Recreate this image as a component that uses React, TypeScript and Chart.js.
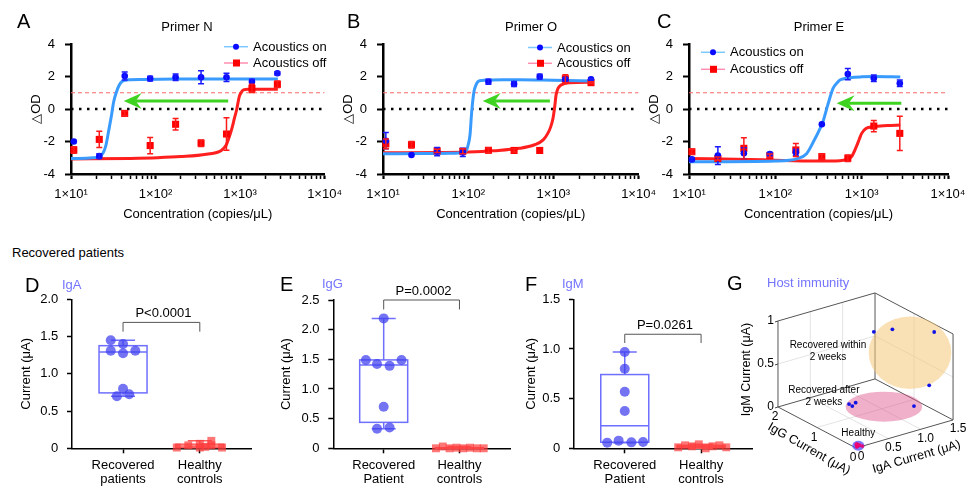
import React, { useEffect, useRef } from "react";
import { Chart, registerables } from "chart.js";

Chart.register(...registerables);
const FONT = '"Liberation Sans", Arial, Helvetica, sans-serif';
Chart.defaults.font.family = FONT;
Chart.defaults.color = "#000";

// ---------------- Data: panels A–C (ΔOD vs concentration) ----------------
const CONC = [10.8, 21.6, 43.2, 86.4, 172.8, 345.6, 691.2, 1382.4, 2764.8];
const X_DECADES = [10, 100, 1000, 10000];
const X_TICK_LABELS = ["1×10¹", "1×10²", "1×10³", "1×10⁴"];
const Y_TICKS_OD = [-4, -2, 0, 2, 4];
const CUTOFF = 1;
const BASELINE = 0;
const PRIMERS = ["Primer N", "Primer O", "Primer E"];
const SERIES = ["Acoustics on", "Acoustics off"];

const A_ON = [-2.0, -2.9, 2.03, 1.87, 1.95, 1.95, 1.95, 1.68, 2.2];
const A_ON_ERR = [0, 0.15, 0.25, 0.15, 0.2, 0.4, 0.25, 0.15, 0.1];
const A_OFF = [-2.52, -1.87, -0.27, -2.25, -0.94, -2.1, -1.54, 1.27, 1.52];
const A_OFF_ERR = [0.2, 0.5, 0.15, 0.5, 0.35, 0.2, 1.0, 0.25, 0.2];
const A_ON_FIT_X = [10, 18, 21.6, 24, 26, 28, 30, 32, 34.5, 37, 40, 44, 50, 70, 200, 2800];
const A_ON_FIT_Y = [-3.05, -3.0, -2.92, -2.7, -2.2, -1.3, -0.45, 0.45, 1.05, 1.45, 1.68, 1.77, 1.8, 1.82, 1.84, 1.85];
const A_OFF_FIT_X = [10, 50, 105, 200, 400, 600, 680, 724, 770, 810, 860, 910, 980, 1040, 1100, 1250, 2800];
const A_OFF_FIT_Y = [-3.08, -3.04, -3.0, -2.93, -2.78, -2.55, -2.25, -1.9, -1.5, -1.1, -0.55, -0.06, 0.76, 1.05, 1.17, 1.21, 1.22];
const A_ARROW = { from: 724, to: 42, y: 0.5 };

const B_ON = [-1.95, -2.83, -2.62, -2.67, 1.68, 1.54, 1.99, 1.83, 1.83];
const B_ON_ERR = [0.5, 0, 0.25, 0.25, 0.15, 0.15, 0.15, 0.1, 0.05];
const B_OFF = [-2.15, -2.2, -2.58, -2.6, -2.54, -2.55, -2.55, 1.86, 1.62];
const B_OFF_ERR = [0.3, 0.2, 0.1, 0.15, 0.15, 0.1, 0, 0.25, 0.05];
const B_ON_FIT_X = [10, 30, 60, 90, 96, 100, 105, 110, 117, 124, 130, 145, 170, 250, 400, 1000, 2800];
const B_ON_FIT_Y = [-2.75, -2.74, -2.73, -2.68, -2.52, -2.2, -1.6, -0.16, 1.07, 1.5, 1.68, 1.76, 1.78, 1.8, 1.8, 1.77, 1.73];
const B_OFF_FIT_X = [10, 50, 100, 200, 400, 600, 760, 860, 930, 990, 1040, 1075, 1130, 1230, 1550, 2800];
const B_OFF_FIT_Y = [-2.7, -2.68, -2.65, -2.57, -2.42, -2.2, -1.9, -1.5, -1.1, -0.57, 0.2, 0.86, 1.25, 1.48, 1.62, 1.65];
const B_ARROW = { from: 910, to: 148, y: 0.5 };

const C_ON = [-3.1, -2.87, -2.73, -2.77, -2.67, -0.94, 2.15, 1.89, 1.58];
const C_ON_ERR = [0.1, 0.55, 0.35, 0.1, 0.2, 0, 0.35, 0.2, 0.2];
const C_OFF = [-2.63, -3.05, -2.42, -2.87, -2.52, -2.93, -3.03, -1.05, -1.5];
const C_OFF_ERR = [0.15, 0.1, 0.65, 0.1, 0.4, 0.15, 0.2, 0.35, 1.05];
const C_ON_FIT_X = [10, 100, 180, 230, 277, 320, 356, 405, 466, 520, 560, 640, 727, 1000, 1400, 2800];
const C_ON_FIT_Y = [-3.25, -3.2, -3.05, -2.75, -2.0, -1.35, -0.78, 0.25, 1.27, 1.62, 1.78, 1.88, 1.93, 1.98, 2.0, 1.97];
const C_OFF_FIT_X = [10, 50, 100, 300, 560, 660, 760, 870, 940, 1000, 1130, 1350, 2000, 2800];
const C_OFF_FIT_Y = [-3.05, -3.1, -3.15, -3.2, -3.18, -3.12, -2.95, -2.3, -1.85, -1.5, -1.19, -1.09, -1.02, -0.98];
const C_ARROW = { from: 2880, to: 513, y: 0.35 };

// ---------------- Data: panels D–F (box plots) ----------------
const GROUPS_DE = ["Recovered", "patients"];
const GROUPS_P = ["Recovered", "Patient"];
const GROUP_HC = ["Healthy", "controls"];

const D_REC = [1.45, 1.4, 1.31, 1.275, 1.31, 0.8, 0.7, 0.725];
const D_REC_JIT = [-0.16, 0, -0.16, 0, 0.16, 0, -0.08, 0.08];
const D_HC = [0.01, 0.04, 0.06, 0.01, 0.1, 0.04, 0.01, 0.02];
const D_HC_JIT = [-0.3, -0.15, 0, 0, 0.15, 0.15, 0.29, 0.07];

const E_REC = [2.19, 1.49, 1.49, 1.42, 1.39, 0.7, 0.33, 0.35];
const E_REC_JIT = [0, -0.235, 0.235, -0.088, 0.078, 0, -0.088, 0.078];
const E_HC = [0.0, 0.03, 0.0, 0.01, 0.0, 0.01, 0.0, 0.0];
const E_HC_JIT = [-0.31, -0.22, -0.13, -0.04, 0.05, 0.14, 0.23, 0.32];

const F_REC = [0.97, 0.8, 0.57, 0.376, 0.057, 0.077, 0.06, 0.064];
const F_REC_JIT = [0, 0, 0, 0, -0.23, -0.08, 0.087, 0.24];
const F_HC = [0.01, 0.03, 0.02, 0.04, 0.0, 0.02, 0.03, 0.01];
const F_HC_JIT = [-0.3, -0.21, -0.12, -0.03, 0.06, 0.15, 0.24, 0.33];

// ---------------- Data: panel G (3D host immunity) ----------------
const G_IGA = [0.8, 1.31, 1.48, 1.3, 0.67, 0.66, 0.73, 1.27];
const G_IGG = [0.87, 1.24, 0.45, 0.28, 1.29, 1.19, 1.22, 0.62];
const G_IGM = [0.97, 0.8, 0.92, 0.38, 0.057, 0.06, 0.077, 0.064];
const G_IGA_TICKS = [0, 0.5, 1.0, 1.5];
const G_IGA_LABELS = ["0", "0.5", "1.0", "1.5"];
const G_IGG_TICKS = [0, 1, 2];
const G_IGM_TICKS = [0, 0.5, 1];
const G_IGM_LABELS = ["0", "0.5", "1"];

// ---------------- Styles ----------------
const GREEN = "#3fd321";
const BLUE_PT = "#0a0aff";
const RED_PT = "#ff0000";
const LABEL_BLUE = "#7474ff";

type P = { x: number; y: number };
const zip = (xs: number[], ys: number[]): P[] => xs.map((x, i) => ({ x, y: ys[i] }));

// ---------- plugins for A–C ----------
const errorBarsPlugin = {
  id: "errorBars",
  afterDatasetsDraw(chart: any) {
    const { ctx } = chart;
    const xs = chart.scales.x, ys = chart.scales.y;
    chart.data.datasets.forEach((ds: any) => {
      if (!ds.errors) return;
      ctx.save();
      ctx.strokeStyle = ds.errColor;
      ctx.lineWidth = 1.5;
      ds.data.forEach((p: P, i: number) => {
        const e = ds.errors[i];
        if (!e) return;
        const x = xs.getPixelForValue(p.x);
        const y1 = ys.getPixelForValue(p.y + e), y2 = ys.getPixelForValue(p.y - e);
        ctx.beginPath();
        ctx.moveTo(x, y1); ctx.lineTo(x, y2);
        ctx.moveTo(x - 3, y1); ctx.lineTo(x + 3, y1);
        ctx.moveTo(x - 3, y2); ctx.lineTo(x + 3, y2);
        ctx.stroke();
      });
      ctx.restore();
    });
  },
};

function arrowPlugin(arrow: { from: number; to: number; y: number }) {
  return {
    id: "arrow",
    afterDatasetsDraw(chart: any) {
      const { ctx } = chart;
      const x1 = chart.scales.x.getPixelForValue(arrow.from);
      const x0 = chart.scales.x.getPixelForValue(arrow.to);
      const y = chart.scales.y.getPixelForValue(arrow.y);
      ctx.save();
      ctx.strokeStyle = GREEN;
      ctx.fillStyle = GREEN;
      ctx.lineWidth = 3;
      ctx.beginPath();
      ctx.moveTo(x1, y);
      ctx.lineTo(x0 + 12, y);
      ctx.stroke();
      ctx.beginPath();
      ctx.moveTo(x0, y);
      ctx.lineTo(x0 + 18, y - 8);
      ctx.lineTo(x0 + 12, y);
      ctx.lineTo(x0 + 18, y + 8);
      ctx.closePath();
      ctx.fill();
      ctx.restore();
    },
  };
}

function legendPlugin(dx: number, ys: number[]) {
  return {
    id: "customLegend",
    afterDraw(chart: any) {
      const { ctx } = chart;
      const lx = chart.chartArea.left + dx;
      ctx.save();
      ctx.font = `13px ${FONT}`;
      ctx.textBaseline = "middle";
      ctx.textAlign = "left";
      SERIES.forEach((name, i) => {
        const y = ys[i];
        ctx.strokeStyle = i === 0 ? "#7cc8ff" : "#ff8fb0";
        ctx.lineWidth = 1.5;
        ctx.beginPath();
        ctx.moveTo(lx, y);
        ctx.lineTo(lx + 24, y);
        ctx.stroke();
        if (i === 0) {
          ctx.fillStyle = BLUE_PT;
          ctx.beginPath();
          ctx.arc(lx + 12, y, 3, 0, Math.PI * 2);
          ctx.fill();
        } else {
          ctx.fillStyle = RED_PT;
          ctx.fillRect(lx + 9, y - 3.5, 7, 7);
        }
        ctx.fillStyle = "#000";
        ctx.fillText(name, lx + 29, y + 0.5);
      });
      ctx.restore();
    },
  };
}

type OdPanel = {
  on: number[]; onErr: number[]; off: number[]; offErr: number[];
  onFitX: number[]; onFitY: number[]; offFitX: number[]; offFitY: number[];
  arrow: { from: number; to: number; y: number };
};

function odConfig(p: OdPanel, padRight: number, legendDx: number, legendY: number[]): any {
  const pts = (ys: number[]) => CONC.map((x, i) => ({ x, y: ys[i] }));
  return {
    type: "scatter",
    data: {
      datasets: [
        { data: pts(p.on), errors: p.onErr, errColor: "#1a1aff", pointStyle: "circle", pointRadius: 3.3, backgroundColor: BLUE_PT, borderWidth: 0, clip: false },
        { data: pts(p.off), errors: p.offErr, errColor: "#ff1a1a", pointStyle: "rect", pointRadius: 5, backgroundColor: RED_PT, borderWidth: 0, clip: false },
        { data: zip(p.onFitX, p.onFitY), showLine: true, borderColor: "#3a9bff", borderWidth: 3, pointRadius: 0, cubicInterpolationMode: "monotone" },
        { data: zip(p.offFitX, p.offFitY), showLine: true, borderColor: "#ff1f1f", borderWidth: 3, pointRadius: 0, cubicInterpolationMode: "monotone" },
        { data: [{ x: X_DECADES[0], y: CUTOFF }, { x: X_DECADES[3], y: CUTOFF }], showLine: true, borderColor: "#ff6a6a", borderWidth: 1, borderDash: [4, 3], pointRadius: 0 },
        { data: [{ x: X_DECADES[0], y: BASELINE }, { x: X_DECADES[3], y: BASELINE }], showLine: true, borderColor: "#000", borderWidth: 2.5, borderDash: [2.5, 5.5], pointRadius: 0 },
      ],
    },
    options: {
      responsive: false,
      animation: false,
      devicePixelRatio: 1,
      events: [],
      layout: { padding: { left: 0, right: padRight, top: 44, bottom: 0 } },
      plugins: { legend: { display: false }, tooltip: { enabled: false } },
      scales: {
        x: {
          type: "logarithmic",
          min: X_DECADES[0],
          max: X_DECADES[3],
          afterFit: (s: any) => { s.height = 56; },
          afterBuildTicks: (s: any) => {
            const t: any[] = [];
            for (let d = 0; d < 3; d++) for (let k = 1; k <= 9; k++) t.push({ value: k * X_DECADES[d] });
            t.push({ value: X_DECADES[3] });
            s.ticks = t;
          },
          ticks: {
            autoSkip: false, maxRotation: 0, minRotation: 0, padding: 8, font: { size: 13 },
            callback: (v: number) => { const i = X_DECADES.indexOf(v); return i >= 0 ? X_TICK_LABELS[i] : ""; },
          },
          grid: {
            drawOnChartArea: false, tickLength: 5, tickColor: "#000",
            tickWidth: (c: any) => (c.tick && X_DECADES.indexOf(c.tick.value) >= 0 ? 2.2 : 1.5),
          },
          border: { color: "#000", width: 2.5 },
          title: { display: true, text: "Concentration (copies/μL)", font: { size: 13 }, padding: { top: 0, bottom: 8 } },
        },
        y: {
          min: -4, max: 4,
          afterFit: (s: any) => { s.width = 71; },
          afterBuildTicks: (s: any) => { s.ticks = Y_TICKS_OD.map((v) => ({ value: v })); },
          ticks: { padding: 10, font: { size: 13 } },
          grid: { drawOnChartArea: false, tickLength: 6, tickColor: "#000", tickWidth: 2 },
          border: { color: "#000", width: 2.5 },
          title: { display: true, text: "△OD", font: { size: 13 }, padding: { top: 29, bottom: 0 } },
        },
      },
    },
    plugins: [errorBarsPlugin, arrowPlugin(p.arrow), legendPlugin(legendDx, legendY)],
  };
}

// ---------- D–F box plots ----------
function quant(vals: number[], p: number) {
  const s = [...vals].sort((a, b) => a - b);
  const n = s.length;
  const pos = (n + 1) * p;
  const lo = Math.floor(pos);
  if (lo < 1) return s[0];
  if (lo >= n) return s[n - 1];
  return s[lo - 1] + (pos - lo) * (s[lo] - s[lo - 1]);
}

type BoxPanel = {
  rec: number[]; recJit: number[]; hc: number[]; hcJit: number[];
  yMax: number; labels: string[][]; pText: string;
};
type BoxLayout = { padTop: number; yWidth: number; titlePad: number; xHeight: number; padRight: number; bracketTop: number; bracketLeg: number };

function boxConfig(p: BoxPanel, l: BoxLayout): any {
  const boxPlugin = {
    id: "boxes",
    beforeDatasetsDraw(chart: any) {
      const { ctx } = chart;
      const xs = chart.scales.x, ys = chart.scales.y;
      const groups = [
        { pos: 1, vals: p.rec, color: "#6f6fff" },
        { pos: 2, vals: p.hc, color: "#ff5c5c" },
      ];
      groups.forEach((g) => {
        const cx = xs.getPixelForValue(g.pos);
        const q1 = ys.getPixelForValue(quant(g.vals, 0.25));
        const q3 = ys.getPixelForValue(quant(g.vals, 0.75));
        const md = ys.getPixelForValue(quant(g.vals, 0.5));
        const mn = ys.getPixelForValue(Math.min(...g.vals));
        const mx = ys.getPixelForValue(Math.max(...g.vals));
        const hw = 24, cw = 12;
        ctx.save();
        ctx.strokeStyle = g.color;
        ctx.lineWidth = 1.5;
        ctx.strokeRect(cx - hw, q3, hw * 2, q1 - q3);
        ctx.beginPath();
        ctx.moveTo(cx - hw, md); ctx.lineTo(cx + hw, md);
        ctx.moveTo(cx, q3); ctx.lineTo(cx, mx);
        ctx.moveTo(cx - cw, mx); ctx.lineTo(cx + cw, mx);
        ctx.moveTo(cx, q1); ctx.lineTo(cx, mn);
        ctx.moveTo(cx - cw, mn); ctx.lineTo(cx + cw, mn);
        ctx.stroke();
        ctx.restore();
      });
    },
    afterDraw(chart: any) {
      const { ctx } = chart;
      const xs = chart.scales.x, ys = chart.scales.y;
      const x1 = xs.getPixelForValue(1), x2 = xs.getPixelForValue(2);
      const yt = ys.getPixelForValue(l.bracketTop), yl = ys.getPixelForValue(l.bracketLeg);
      ctx.save();
      ctx.strokeStyle = "#555";
      ctx.lineWidth = 1;
      ctx.beginPath();
      ctx.moveTo(x1, yl); ctx.lineTo(x1, yt); ctx.lineTo(x2, yt); ctx.lineTo(x2, yl);
      ctx.stroke();
      ctx.fillStyle = "#000";
      ctx.font = `13px ${FONT}`;
      ctx.textAlign = "center";
      ctx.textBaseline = "middle";
      ctx.fillText(p.pText, (x1 + x2) / 2 + 2, yt - 9);
      ctx.restore();
    },
  };
  const yTicks: number[] = [];
  for (let v = 0; v <= p.yMax + 1e-9; v += 0.5) yTicks.push(Math.round(v * 10) / 10);
  return {
    type: "scatter",
    data: {
      datasets: [
        { data: p.rec.map((v, i) => ({ x: 1 + p.recJit[i], y: v })), pointStyle: "circle", pointRadius: 5, backgroundColor: "rgba(62,62,238,0.72)", borderWidth: 0, clip: false },
        { data: p.hc.map((v, i) => ({ x: 2 + p.hcJit[i], y: v })), pointStyle: "rect", pointRadius: 5.6, backgroundColor: "rgba(255,60,60,0.7)", borderWidth: 0, clip: false },
      ],
    },
    options: {
      responsive: false,
      animation: false,
      devicePixelRatio: 1,
      events: [],
      layout: { padding: { left: 0, right: l.padRight, top: l.padTop, bottom: 0 } },
      plugins: { legend: { display: false }, tooltip: { enabled: false } },
      scales: {
        x: {
          type: "linear", min: 0.335, max: 2.667,
          afterFit: (s: any) => { s.height = l.xHeight; },
          afterBuildTicks: (s: any) => { s.ticks = [{ value: 1 }, { value: 2 }]; },
          ticks: { autoSkip: false, maxRotation: 0, padding: 4.5, font: { size: 13, lineHeight: 1.1 }, callback: (v: number) => (v === 1 ? p.labels[0] : p.labels[1]) },
          grid: { drawOnChartArea: false, tickLength: 5, tickColor: "#000", tickWidth: 1.5 },
          border: { color: "#000", width: 1.5 },
        },
        y: {
          min: 0, max: p.yMax,
          afterFit: (s: any) => { s.width = l.yWidth; },
          afterBuildTicks: (s: any) => { s.ticks = yTicks.map((v) => ({ value: v })); },
          ticks: { padding: 8.7, font: { size: 13 }, callback: (v: number) => (v === 0 ? "0" : v.toFixed(1)) },
          grid: { drawOnChartArea: false, tickLength: 5, tickColor: "#000", tickWidth: 1.5 },
          border: { color: "#000", width: 1.5 },
          title: { display: true, text: "Current (μA)", font: { size: 13 }, padding: { top: l.titlePad, bottom: 0 } },
        },
      },
    },
    plugins: [boxPlugin],
  };
}

// ---------- G: 3D projection ----------
const PROJ = { ax: 1, ay: 0.289, gx: -0.603, gy: 0.317, mz: 1.329 };
const proj = (a: number, g: number, m: number): P => ({ x: a * PROJ.ax + g * PROJ.gx, y: a * PROJ.ay + g * PROJ.gy + m * PROJ.mz });
const A_MAX = 1.5, G_MAX = 2, M_MAX = 1;

const G_CLUSTERS = [
  { center: [1.335, 0.83, 0.62], rx: 41.3, ry: 36.2, fill: "rgba(245,200,120,0.55)", label: ["Recovered within", "2 weeks"], dx: -82, dy: -7 },
  { center: [0.98, 0.91, 0.05], rx: 38.3, ry: 15, fill: "rgba(222,80,135,0.45)", label: ["Recovered after", "2 weeks"], dx: -60, dy: -16 },
  { center: [0.066, 0.05, 0], rx: 6, ry: 5, fill: "rgba(80,80,255,0.75)", label: ["Healthy"], dx: 0, dy: -12 },
];

function seg(a0: number[], a1: number[]): P[] {
  return [proj(a0[0], a0[1], a0[2]), proj(a1[0], a1[1], a1[2])];
}

function gConfig(): any {
  const edges = [
    seg([0, 0, 0], [0, G_MAX, 0]),
    seg([0, 0, 0], [A_MAX, 0, 0]),
    seg([0, G_MAX, 0], [A_MAX, G_MAX, 0]),
    seg([A_MAX, G_MAX, 0], [A_MAX, 0, 0]),
    seg([0, G_MAX, 0], [0, G_MAX, M_MAX]),
    seg([A_MAX, G_MAX, 0], [A_MAX, G_MAX, M_MAX]),
    seg([A_MAX, 0, 0], [A_MAX, 0, M_MAX]),
    seg([0, G_MAX, M_MAX], [A_MAX, G_MAX, M_MAX]),
    seg([A_MAX, G_MAX, M_MAX], [A_MAX, 0, M_MAX]),
  ];
  const grids = [
    seg([0, G_MAX, 0.5], [A_MAX, G_MAX, 0.5]),
    seg([0.5, G_MAX, 0], [0.5, G_MAX, M_MAX]),
    seg([1.0, G_MAX, 0], [1.0, G_MAX, M_MAX]),
    seg([A_MAX, 0, 0.5], [A_MAX, G_MAX, 0.5]),
    seg([A_MAX, 1, 0], [A_MAX, 1, M_MAX]),
    seg([0.5, 0, 0], [0.5, G_MAX, 0]),
    seg([1.0, 0, 0], [1.0, G_MAX, 0]),
    seg([0, 1, 0], [A_MAX, 1, 0]),
  ];
  const rec = G_IGA.map((a, i) => proj(a, G_IGG[i], G_IGM[i]));
  const hc = D_HC.map((a, i) => proj(a, E_HC[i], F_HC[i]));
  const lineDs = (d: P[], color: string, w: number) => ({ data: d, showLine: true, borderColor: color, borderWidth: w, pointRadius: 0, clip: false });
  const gPlugin = {
    id: "g3d",
    afterDatasetDraw(chart: any, args: any) {
      if (args.index !== 2) return;
      const { ctx } = chart;
      const xs = chart.scales.x, ys = chart.scales.y;
      G_CLUSTERS.forEach((c) => {
        const p = proj(c.center[0], c.center[1], c.center[2]);
        ctx.save();
        ctx.fillStyle = c.fill;
        ctx.beginPath();
        ctx.ellipse(xs.getPixelForValue(p.x), ys.getPixelForValue(p.y), c.rx, c.ry, 0, 0, Math.PI * 2);
        ctx.fill();
        ctx.restore();
      });
    },
    afterDraw(chart: any) {
      const { ctx } = chart;
      const xs = chart.scales.x, ys = chart.scales.y;
      const px = (a: number, g: number, m: number) => {
        const p = proj(a, g, m);
        return { x: xs.getPixelForValue(p.x), y: ys.getPixelForValue(p.y) };
      };
      ctx.save();
      ctx.fillStyle = "#000";
      ctx.textBaseline = "middle";
      // cluster labels
      ctx.font = `10px ${FONT}`;
      ctx.textAlign = "center";
      G_CLUSTERS.forEach((c) => {
        const q = px(c.center[0], c.center[1], c.center[2]);
        c.label.forEach((t, i) => ctx.fillText(t, q.x + c.dx, q.y + c.dy + i * 11.7));
      });
      // IgM ticks
      ctx.font = `12px ${FONT}`;
      ctx.strokeStyle = "#444";
      ctx.lineWidth = 1;
      G_IGM_TICKS.forEach((m, i) => {
        const q = px(0, G_MAX, m);
        ctx.beginPath(); ctx.moveTo(q.x, q.y); ctx.lineTo(q.x - 3, q.y + 1); ctx.stroke();
        ctx.textAlign = "right";
        ctx.fillText(G_IGM_LABELS[i], q.x - 4, q.y);
      });
      ctx.textAlign = "center";
      G_IGG_TICKS.forEach((g) => {
        const q = px(0, g, 0);
        ctx.fillText(String(g), q.x - 3, q.y + 10);
      });
      G_IGA_TICKS.forEach((a, i) => {
        const q = px(a, 0, 0);
        ctx.fillText(G_IGA_LABELS[i], q.x + 5, q.y + 9);
      });
      // axis titles
      ctx.font = `12.5px ${FONT}`;
      const title = (t: string, x: number, y: number, ang: number) => {
        ctx.save(); ctx.translate(x, y); ctx.rotate(ang); ctx.fillText(t, 0, 0); ctx.restore();
      };
      const mM = px(0, G_MAX, M_MAX / 2);
      title("IgM Current (μA)", mM.x - 31, mM.y + 5.5, -Math.PI / 2);
      const mG = px(0, G_MAX / 2, 0);
      title("IgG Current (μA)", mG.x - 8, mG.y + 21.5, (29.6 * Math.PI) / 180);
      const mA = px(A_MAX / 2, 0, 0);
      title("IgA Current (μA)", mA.x + 12, mA.y + 23, (-16.2 * Math.PI) / 180);
      ctx.restore();
    },
  };
  return {
    type: "scatter",
    data: {
      datasets: [
        { data: rec, pointStyle: "circle", pointRadius: 1.9, backgroundColor: "#1212e6", borderWidth: 0, clip: false },
        { data: hc, pointStyle: "circle", pointRadius: 1.8, backgroundColor: "rgba(240,0,110,0.85)", borderWidth: 0, clip: false },
        ...edges.map((d) => lineDs(d, "#555", 1)),
        ...grids.map((d) => lineDs(d, "#dcdcdc", 0.8)),
      ],
    },
    options: {
      responsive: false,
      animation: false,
      devicePixelRatio: 1,
      events: [],
      layout: { padding: { left: 30, right: 5, top: 20, bottom: 29 } },
      plugins: { legend: { display: false }, tooltip: { enabled: false } },
      scales: {
        x: { type: "linear", display: false, min: -1.4838, max: 1.762 },
        y: { type: "linear", display: false, min: -0.1855, max: 2.5967 },
      },
    },
    plugins: [gPlugin],
  };
}

// ---------- React ----------
function ChartCanvas({ left, top, width, height, make }: { left: number; top: number; width: number; height: number; make: () => any }) {
  const ref = useRef<HTMLCanvasElement>(null);
  useEffect(() => {
    const c = new Chart(ref.current as HTMLCanvasElement, make());
    return () => c.destroy();
  }, []);
  return <canvas ref={ref} width={width} height={height} style={{ position: "absolute", left, top, width, height }} />;
}

function Txt({ x, cy, size = 13, color = "#000", center = false, children }: any) {
  return (
    <div
      style={{
        position: "absolute", left: x, top: cy - size * 0.55, fontSize: size, lineHeight: `${size * 1.12}px`,
        color, whiteSpace: "nowrap", fontFamily: FONT, transform: center ? "translateX(-50%)" : undefined,
      }}
    >
      {children}
    </div>
  );
}

const PANEL_A: OdPanel = { on: A_ON, onErr: A_ON_ERR, off: A_OFF, offErr: A_OFF_ERR, onFitX: A_ON_FIT_X, onFitY: A_ON_FIT_Y, offFitX: A_OFF_FIT_X, offFitY: A_OFF_FIT_Y, arrow: A_ARROW };
const PANEL_B: OdPanel = { on: B_ON, onErr: B_ON_ERR, off: B_OFF, offErr: B_OFF_ERR, onFitX: B_ON_FIT_X, onFitY: B_ON_FIT_Y, offFitX: B_OFF_FIT_X, offFitY: B_OFF_FIT_Y, arrow: B_ARROW };
const PANEL_C: OdPanel = { on: C_ON, onErr: C_ON_ERR, off: C_OFF, offErr: C_OFF_ERR, onFitX: C_ON_FIT_X, onFitY: C_ON_FIT_Y, offFitX: C_OFF_FIT_X, offFitY: C_OFF_FIT_Y, arrow: C_ARROW };

export default function App() {
  return (
    <div style={{ position: "absolute", left: 0, top: 0, width: 975, height: 489, background: "#fff", overflow: "hidden", fontFamily: FONT }}>
      <ChartCanvas left={0} top={0} width={350} height={230} make={() => odConfig(PANEL_A, 20, 153, [46.7, 63])} />
      <ChartCanvas left={312} top={0} width={352} height={230} make={() => odConfig(PANEL_B, 20, 145, [47.5, 63.3])} />
      <ChartCanvas left={618} top={0} width={357} height={230} make={() => odConfig(PANEL_C, 27, 12, [52.3, 69.3])} />

      <ChartCanvas left={0} top={260} width={261} height={229}
        make={() => boxConfig({ rec: D_REC, recJit: D_REC_JIT, hc: D_HC, hcJit: D_HC_JIT, yMax: 2, labels: [GROUPS_DE, GROUP_HC], pText: "P<0.0001" },
          { padTop: 39.3, yWidth: 72, titlePad: 18.9, xHeight: 40.7, padRight: 10, bracketTop: 1.69, bracketLeg: 1.566 })} />
      <ChartCanvas left={250} top={260} width={270} height={229}
        make={() => boxConfig({ rec: E_REC, recJit: E_REC_JIT, hc: E_HC, hcJit: E_HC_JIT, yMax: 2.5, labels: [GROUPS_P, GROUP_HC], pText: "P=0.0002" },
          { padTop: 40, yWidth: 83.3, titlePad: 28.9, xHeight: 40.7, padRight: 10, bracketTop: 2.5, bracketLeg: 2.34 })} />
      <ChartCanvas left={500} top={260} width={262} height={229}
        make={() => boxConfig({ rec: F_REC, recJit: F_REC_JIT, hc: F_HC, hcJit: F_HC_JIT, yMax: 1.5, labels: [GROUPS_P, GROUP_HC], pText: "P=0.0261" },
          { padTop: 39.3, yWidth: 74, titlePad: 23.9, xHeight: 40.7, padRight: 10, bracketTop: 1.148, bracketLeg: 1.06 })} />
      <ChartCanvas left={730} top={260} width={245} height={229} make={gConfig} />

      <Txt x={17} cy={21} size={20}>A</Txt>
      <Txt x={347} cy={21} size={20}>B</Txt>
      <Txt x={657} cy={21} size={20}>C</Txt>
      <Txt x={187} cy={27} center>{PRIMERS[0]}</Txt>
      <Txt x={531} cy={27} center>{PRIMERS[1]}</Txt>
      <Txt x={819} cy={27} center>{PRIMERS[2]}</Txt>

      <Txt x={12} cy={253}>Recovered patients</Txt>
      <Txt x={25} cy={285} size={20}>D</Txt>
      <Txt x={280} cy={284} size={20}>E</Txt>
      <Txt x={525} cy={284} size={20}>F</Txt>
      <Txt x={727} cy={283} size={20}>G</Txt>
      <Txt x={62} cy={285} color={LABEL_BLUE}>IgA</Txt>
      <Txt x={322} cy={284} color={LABEL_BLUE}>IgG</Txt>
      <Txt x={562} cy={284} color={LABEL_BLUE}>IgM</Txt>
      <Txt x={767} cy={283} color={LABEL_BLUE}>Host immunity</Txt>
    </div>
  );
}
